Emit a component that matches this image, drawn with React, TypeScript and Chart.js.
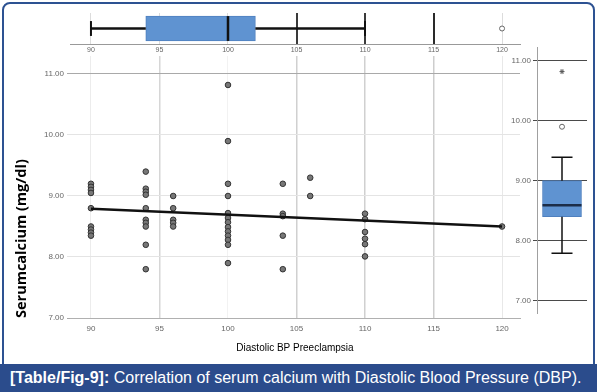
import React, { useEffect, useRef } from 'react';
import { Chart, registerables } from 'chart.js';
Chart.register(...registerables);

// ---- data ----
const dbpLevels = [90, 94, 96, 100, 104, 106, 110, 120];
const calciumAt90 = [9.2, 9.15, 9.1, 9.05, 8.8, 8.5, 8.45, 8.4, 8.35];
const calciumAt94 = [9.4, 9.12, 9.07, 9.02, 8.8, 8.61, 8.56, 8.5, 8.2, 7.8];
const calciumAt96 = [9.0, 8.8, 8.61, 8.56, 8.5];
const calciumAt100 = [10.82, 9.9, 9.2, 9.0, 8.72, 8.64, 8.57, 8.49, 8.42, 8.35, 8.28, 8.2, 7.9];
const calciumAt104 = [9.2, 8.71, 8.67, 8.35, 7.8];
const calciumAt106 = [9.3, 9.0];
const calciumAt110 = [8.71, 8.62, 8.41, 8.3, 8.21, 8.01];
const calciumAt120 = [8.5];
const calciumByLevel = [calciumAt90, calciumAt94, calciumAt96, calciumAt100, calciumAt104, calciumAt106, calciumAt110, calciumAt120];

const fitX = [90, 120];
const fitY = [8.79, 8.5];

// min, q1, median, q3, max
const dbpBoxStats = [90, 94, 100, 102, 110];
const dbpOutliers = [120];
const calciumBoxStats = [7.79, 8.4, 8.59, 9.0, 9.39];
const calciumOutliers = [9.9];
const calciumExtremes = [10.82];

const xTicks = [90, 95, 100, 105, 110, 115, 120];
const yTicks = [7, 8, 9, 10, 11];

const BOX_BLUE = '#5f93d1';
const TICK_FONT = { size: 8, family: 'Liberation Sans' };

const xGridColor: Record<number, string> = { 90: '#ececec', 95: '#d6d6d6', 100: '#f2f2f2', 105: '#d0d0d0', 110: '#d0d0d0', 115: '#cdcdcd', 120: '#e8e8e8' };
const topGridColor: Record<number, string> = { 90: '#dcdcdc', 95: '#dcdcdc', 100: '#dcdcdc', 105: '#3a3a3a', 110: '#3a3a3a', 115: '#2a2a2a', 120: '#dcdcdc' };

const seg = (pts: { x: number; y: number }[], color: string, width: number) => ({
  type: 'line' as const,
  data: pts,
  borderColor: color,
  borderWidth: width,
  pointRadius: 0,
  fill: false,
  showLine: true,
  order: 0,
});

export default function App() {
  const mainRef = useRef<HTMLCanvasElement>(null);
  const topRef = useRef<HTMLCanvasElement>(null);
  const rightRef = useRef<HTMLCanvasElement>(null);

  useEffect(() => {
    const points: { x: number; y: number }[] = [];
    dbpLevels.forEach((lvl, i) => calciumByLevel[i].forEach((v) => points.push({ x: lvl, y: v })));

    const setXTicks = (s: any) => { s.ticks = xTicks.map((v) => ({ value: v })); };
    const setYTicks = (s: any) => { s.ticks = yTicks.map((v) => ({ value: v })); };

    const main = new Chart(mainRef.current!, {
      type: 'scatter',
      data: {
        datasets: [
          {
            type: 'line',
            data: fitX.map((x, i) => ({ x, y: fitY[i] })),
            borderColor: '#111',
            borderWidth: 2.5,
            pointRadius: 0,
            fill: false,
            order: 0,
          } as any,
          {
            type: 'scatter',
            data: points,
            pointRadius: 2.8,
            backgroundColor: '#777',
            borderColor: '#333',
            borderWidth: 1,
            order: 1,
          },
        ],
      },
      options: {
        animation: false,
        responsive: false,
        events: [],
        layout: { padding: { left: 0, top: 56, right: 77, bottom: 0 } },
        plugins: { legend: { display: false }, tooltip: { enabled: false } },
        scales: {
          x: {
            type: 'linear',
            min: 88.47,
            max: 121.31,
            offset: false,
            afterBuildTicks: setXTicks,
            afterFit: (s: any) => { s.height = 44; },
            grid: {
              drawTicks: false,
              offset: false,
              color: (c: any) => xGridColor[c.tick?.value] ?? '#e6e6e6',
              lineWidth: (c: any) => ([95, 105, 110, 115].includes(c.tick?.value) ? 1.5 : 1),
            },
            border: { color: '#b0b0b0' },
            ticks: { padding: 6, color: '#666', font: TICK_FONT, callback: (v: any) => String(v) },
            title: {
              display: true,
              text: 'Diastolic BP Preeclampsia',
              color: '#000',
              font: { size: 10, family: 'Liberation Sans' },
              padding: { top: 0, bottom: 8 },
            },
          },
          y: {
            type: 'linear',
            min: 7,
            max: 11.295,
            afterBuildTicks: setYTicks,
            afterFit: (s: any) => { s.width = 70; },
            grid: {
              tickLength: 3,
              color: (c: any) => (c.tick?.value === 11 || c.tick?.value === 7 ? '#a9a9a9' : '#e4e4e4'),
            },
            border: { display: false },
            ticks: { padding: 3, color: '#666', font: TICK_FONT, callback: (v: any) => Number(v).toFixed(2) },
            title: {
              display: true,
              text: 'Serumcalcium (mg/dl)',
              align: 'start',
              color: '#000',
              font: { size: 14.5, family: 'Open Sans', weight: 'bold' },
              padding: { top: 13, bottom: 0 },
            },
          },
        },
      },
    });

    const [dMin, dQ1, dMed, dQ3, dMax] = dbpBoxStats;
    const top = new Chart(topRef.current!, {
      type: 'scatter',
      data: {
        datasets: [
          {
            type: 'bar',
            indexAxis: 'y',
            data: [{ x: [dQ1, dQ3], y: 0.5 }],
            backgroundColor: BOX_BLUE,
            borderColor: '#4f80bf',
            borderWidth: 1,
            borderSkipped: false,
            barThickness: 25,
            order: 2,
          } as any,
          seg([{ x: dMin, y: 0.5 }, { x: dQ1, y: 0.5 }], '#111', 2.5),
          seg([{ x: dQ3, y: 0.5 }, { x: dMax, y: 0.5 }], '#111', 2.5),
          seg([{ x: dMin, y: 0.26 }, { x: dMin, y: 0.74 }], '#111', 2),
          seg([{ x: dMax, y: 0.26 }, { x: dMax, y: 0.74 }], '#111', 2),
          seg([{ x: dMed, y: 0.1 }, { x: dMed, y: 0.9 }], '#111', 2.5),
          {
            type: 'scatter',
            data: dbpOutliers.map((x) => ({ x, y: 0.5 })),
            pointRadius: 2.5,
            backgroundColor: '#fff',
            borderColor: '#666',
            borderWidth: 1,
            order: 0,
          },
        ],
      },
      options: {
        animation: false,
        responsive: false,
        events: [],
        layout: { padding: { left: 70, top: 13, right: 77, bottom: 0 } },
        plugins: { legend: { display: false }, tooltip: { enabled: false } },
        scales: {
          x: {
            type: 'linear',
            min: 88.47,
            max: 121.31,
            offset: false,
            afterBuildTicks: setXTicks,
            afterFit: (s: any) => { s.height = 14; },
            grid: {
              drawTicks: false,
              offset: false,
              color: (c: any) => topGridColor[c.tick?.value] ?? '#dcdcdc',
              lineWidth: (c: any) => ([105, 110, 115].includes(c.tick?.value) ? 2 : 1),
            },
            border: { color: '#999' },
            ticks: { padding: 2, color: '#666', font: { size: 7, family: 'Liberation Sans' }, callback: (v: any) => String(v) },
          },
          y: { type: 'linear', min: 0, max: 1, display: false, offset: false },
        },
      },
    });

    const [cMin, cQ1, cMed, cQ3, cMax] = calciumBoxStats;
    const right = new Chart(rightRef.current!, {
      type: 'scatter',
      data: {
        datasets: [
          {
            type: 'bar',
            data: [{ x: 0.5, y: [cQ1, cQ3] }],
            backgroundColor: BOX_BLUE,
            borderColor: '#4f80bf',
            borderWidth: 1,
            borderSkipped: false,
            barThickness: 39,
            order: 2,
          } as any,
          seg([{ x: 0.5, y: cQ3 }, { x: 0.5, y: cMax }], '#111', 1.5),
          seg([{ x: 0.5, y: cMin }, { x: 0.5, y: cQ1 }], '#111', 1.5),
          seg([{ x: 0.29, y: cMax }, { x: 0.71, y: cMax }], '#111', 1.5),
          seg([{ x: 0.29, y: cMin }, { x: 0.71, y: cMin }], '#111', 1.5),
          seg([{ x: 0.11, y: cMed }, { x: 0.89, y: cMed }], '#1c2d48', 2.5),
          {
            type: 'scatter',
            data: calciumOutliers.map((y) => ({ x: 0.5, y })),
            pointRadius: 2.5,
            backgroundColor: '#fff',
            borderColor: '#666',
            borderWidth: 1,
            order: 0,
          },
          {
            type: 'scatter',
            data: calciumExtremes.map((y) => ({ x: 0.5, y })),
            pointStyle: 'star',
            pointRadius: 2.5,
            backgroundColor: '#fff',
            borderColor: '#555',
            borderWidth: 1,
            order: 0,
          },
        ],
      },
      options: {
        animation: false,
        responsive: false,
        events: [],
        layout: { padding: { left: 0, top: 7, right: 5, bottom: 3 } },
        plugins: { legend: { display: false }, tooltip: { enabled: false } },
        scales: {
          x: { type: 'linear', min: 0, max: 1, display: false, offset: false },
          y: {
            type: 'linear',
            min: 6.79,
            max: 11.23,
            afterBuildTicks: setYTicks,
            afterFit: (s: any) => { s.width = 37; },
            grid: { tickLength: 4, color: '#4a4a4a', lineWidth: 1 },
            border: { color: '#a0a0a0' },
            ticks: { padding: 2, color: '#666', font: TICK_FONT, callback: (v: any) => Number(v).toFixed(2) },
          },
        },
      },
    });

    return () => {
      main.destroy();
      top.destroy();
      right.destroy();
    };
  }, []);

  return (
    <div style={{ position: 'absolute', left: 0, top: 0, width: 597, height: 392, background: '#fff', overflow: 'hidden' }}>
      <div
        style={{
          position: 'absolute',
          left: 2,
          top: 2,
          width: 593,
          height: 366,
          border: '2px solid #2d5292',
          borderRadius: '8px 8px 0 0',
          boxSizing: 'border-box',
        }}
      />
      <canvas ref={topRef} width={597} height={58} style={{ position: 'absolute', left: 0, top: 0 }} />
      <canvas ref={mainRef} width={597} height={362} style={{ position: 'absolute', left: 0, top: 0 }} />
      <canvas ref={rightRef} width={92} height={280} style={{ position: 'absolute', left: 500, top: 40 }} />
      <div
        style={{
          position: 'absolute',
          left: 0,
          top: 364,
          width: 597,
          height: 28,
          background: '#2b4c8c',
          color: '#fff',
          fontFamily: 'Liberation Sans, Arial, sans-serif',
          fontSize: 16,
          lineHeight: '27px',
          paddingLeft: 10,
          boxSizing: 'border-box',
          whiteSpace: 'nowrap',
        }}
      >
        <b>[Table/Fig-9]:</b> Correlation of serum calcium with Diastolic Blood Pressure (DBP).
      </div>
    </div>
  );
}
